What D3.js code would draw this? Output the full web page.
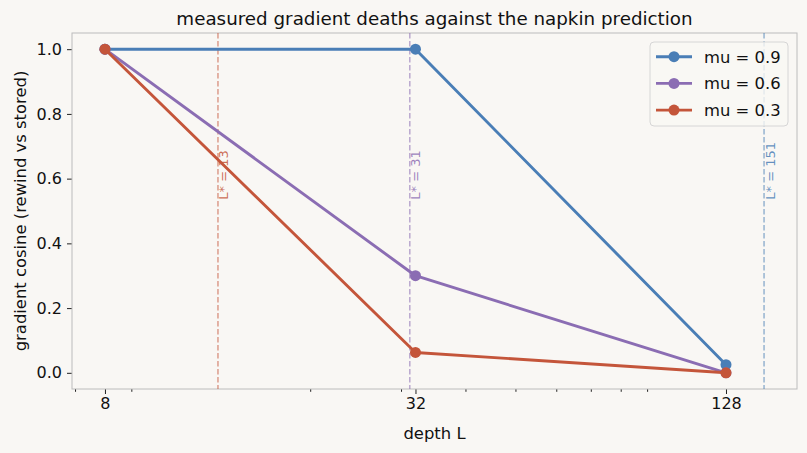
<!DOCTYPE html>
<meta charset="utf-8">
<html>
<head>
  <script src="https://cdn.jsdelivr.net/npm/d3@7"></script>
  <style>
    body { margin: 0; background: #f9f7f4; }
    text { font-family: "DejaVu Sans", sans-serif; }
  </style>
</head>
<body>
<div id="chart"></div>
<script>
  // data
  const depths = [8, 32, 128];
  const muLabels = ["mu = 0.9", "mu = 0.6", "mu = 0.3"];
  const cosMu09 = [1.0, 1.0, 0.025];
  const cosMu06 = [1.0, 0.30, 0.0];
  const cosMu03 = [1.0, 0.063, 0.0];
  const muColors = ["#4a7eb6", "#8b6db3", "#c4553a"];
  // predicted L* per mu
  const lStar = [151.7, 31.2, 13.25];
  const lStarLabels = ["L* = 151", "L* = 31", "L* = 13"];
  const xTicks = [8, 32, 128];
  const xMinorTicks = [7, 9, 20, 30, 40, 50, 60, 70, 80, 90];
  const yTicks = [0, 0.2, 0.4, 0.6, 0.8, 1.0];

  const width = 807, height = 453;
  const margin = {top: 33, right: 10, bottom: 64, left: 72};

  const svg = d3.select("#chart").append("svg")
      .attr("width", width).attr("height", height);

  svg.append("rect").attr("width", width).attr("height", height).attr("fill", "#f9f7f4");

  // log2 x with 5% padding like matplotlib
  const lo = Math.log2(d3.min(depths)), hi = Math.log2(d3.max(lStar));
  const pad = (hi - lo) * 0.05;
  const x = d3.scaleLog().base(2)
      .domain([Math.pow(2, lo - pad), Math.pow(2, hi + pad)])
      .range([margin.left, width - margin.right]);
  const y = d3.scaleLinear().domain([-0.05, 1.05])
      .range([height - margin.bottom, margin.top]);

  // title
  svg.append("text")
      .attr("x", (x.range()[0] + x.range()[1]) / 2).attr("y", 25)
      .attr("text-anchor", "middle").attr("font-size", 18.3).attr("fill", "#111")
      .text("measured gradient deaths against the napkin prediction");

  // axes
  svg.append("g")
      .attr("transform", "translate(0," + (height - margin.bottom) + ")")
      .call(d3.axisBottom(x).tickValues(xTicks).tickFormat(d3.format("d")).tickSize(5).tickPadding(4));
  svg.append("g")
      .attr("transform", "translate(0," + (height - margin.bottom) + ")")
      .call(d3.axisBottom(x).tickValues(xMinorTicks).tickFormat("").tickSize(2.8))
      .call(g => g.select(".domain").remove());
  svg.append("g")
      .attr("transform", "translate(" + margin.left + ",0)")
      .call(d3.axisLeft(y).tickValues(yTicks).tickFormat(d3.format(".1f")).tickSize(5).tickPadding(5));

  svg.selectAll(".domain").remove();
  svg.selectAll(".tick text").attr("font-size", 16).attr("fill", "#111").attr("font-family", "DejaVu Sans");
  svg.selectAll(".tick line").attr("stroke", "#222");

  // frame
  svg.append("rect")
      .attr("x", x.range()[0]).attr("y", y.range()[1])
      .attr("width", x.range()[1] - x.range()[0])
      .attr("height", y.range()[0] - y.range()[1])
      .attr("fill", "none").attr("stroke", "#bcbcbc").attr("stroke-width", 1);

  // axis labels
  svg.append("text")
      .attr("x", (x.range()[0] + x.range()[1]) / 2).attr("y", 439)
      .attr("text-anchor", "middle").attr("font-size", 16.4).attr("fill", "#111")
      .text("depth L");
  svg.append("text")
      .attr("transform", "translate(26," + ((y.range()[0] + y.range()[1]) / 2) + ") rotate(-90)")
      .attr("text-anchor", "middle").attr("font-size", 16.4).attr("fill", "#111")
      .text("gradient cosine (rewind vs stored)");

  // predicted L* lines
  lStar.forEach(function(v, i) {
    svg.append("line")
        .attr("x1", x(v)).attr("x2", x(v))
        .attr("y1", y.range()[1]).attr("y2", y.range()[0])
        .attr("stroke", muColors[i]).attr("stroke-opacity", 0.6)
        .attr("stroke-width", 1.4).attr("stroke-dasharray", "5.5,2.5");
    svg.append("text")
        .attr("transform", "translate(" + (x(v) + 10.5) + "," + y(0.535) + ") rotate(-90)")
        .attr("font-size", 13).attr("fill", muColors[i]).attr("fill-opacity", 0.85)
        .text(lStarLabels[i]);
  });

  // series
  const series = [cosMu09, cosMu06, cosMu03];
  const line = d3.line().x((d, i) => x(depths[i])).y(d => y(d));
  series.forEach(function(vals, s) {
    svg.append("path").datum(vals)
        .attr("d", line).attr("fill", "none")
        .attr("stroke", muColors[s]).attr("stroke-width", 2.9)
        .attr("stroke-linejoin", "round");
    svg.selectAll(null).data(vals).enter().append("circle")
        .attr("cx", (d, i) => x(depths[i])).attr("cy", d => y(d))
        .attr("r", 5.5).attr("fill", muColors[s]);
  });

  // legend
  const lg = svg.append("g").attr("transform", "translate(650,42)");
  lg.append("rect").attr("width", 138).attr("height", 84).attr("rx", 4)
      .attr("fill", "#f9f7f4").attr("fill-opacity", 0.8)
      .attr("stroke", "#d6d6d6").attr("stroke-width", 1);
  muLabels.forEach(function(t, i) {
    const ly = 14.7 + i * 26.7;
    lg.append("line").attr("x1", 6).attr("x2", 42).attr("y1", ly).attr("y2", ly)
        .attr("stroke", muColors[i]).attr("stroke-width", 2.9);
    lg.append("circle").attr("cx", 24).attr("cy", ly).attr("r", 5.5).attr("fill", muColors[i]);
    lg.append("text").attr("x", 54).attr("y", ly + 6).attr("font-size", 16.4).attr("fill", "#111").text(t);
  });
</script>
</body>
</html>
